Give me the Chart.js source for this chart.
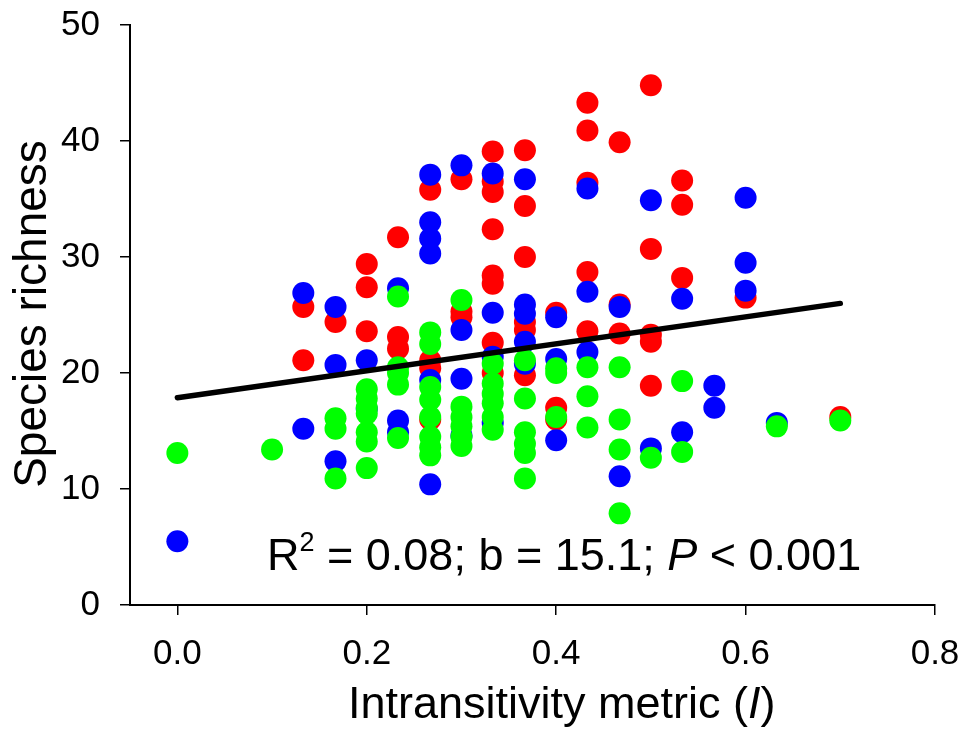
<!DOCTYPE html>
<html>
<head>
<meta charset="utf-8">
<script src="https://cdn.jsdelivr.net/npm/chart.js@4/dist/chart.umd.min.js"></script>
<style>
  html, body { margin: 0; padding: 0; background: #fff; }
  #wrap { width: 961px; height: 731px; }
</style>
</head>
<body>
<div id="wrap"><canvas id="chart" width="961" height="731"></canvas></div>
<script>
const xTicks = [0, 0.2, 0.4, 0.6, 0.8];
const yTicks = [0, 10, 20, 30, 40, 50];

// [intransitivity, species richness]
const redPoints = [
    [0.133, 25.7], [0.133, 21.1],
    [0.167, 24.4],
    [0.2, 29.4], [0.2, 27.4], [0.2, 23.6],
    [0.233, 31.7], [0.233, 23.1], [0.233, 22.1],
    [0.267, 35.8], [0.267, 21.1], [0.267, 20.4], [0.267, 16.0],
    [0.3, 36.7], [0.3, 25.3], [0.3, 24.8],
    [0.333, 39.1], [0.333, 36.5], [0.333, 35.6], [0.333, 32.4], [0.333, 28.4], [0.333, 27.7], [0.333, 22.6], [0.333, 20.0],
    [0.367, 39.2], [0.367, 34.4], [0.367, 30.0], [0.367, 24.4], [0.367, 23.7], [0.367, 19.8],
    [0.4, 25.2], [0.4, 17.0], [0.4, 16.0],
    [0.433, 43.3], [0.433, 40.9], [0.433, 36.4], [0.433, 28.7], [0.433, 23.6],
    [0.467, 39.9], [0.467, 25.9], [0.467, 23.4],
    [0.5, 44.8], [0.5, 30.7], [0.5, 23.3], [0.5, 22.7], [0.5, 18.9],
    [0.533, 36.6], [0.533, 34.5], [0.533, 28.2],
    [0.6, 26.5],
    [0.7, 16.2]
];
const bluePoints = [
    [0, 5.5],
    [0.133, 26.9], [0.133, 15.2],
    [0.167, 25.7], [0.167, 20.7], [0.167, 12.4],
    [0.2, 21.1], [0.2, 16.9],
    [0.233, 27.3], [0.233, 15.9], [0.233, 14.9],
    [0.267, 37.1], [0.267, 33.0], [0.267, 31.6], [0.267, 30.3], [0.267, 19.4], [0.267, 10.4],
    [0.3, 37.9], [0.3, 23.7], [0.3, 19.5], [0.3, 14.6],
    [0.333, 37.2], [0.333, 25.2], [0.333, 21.4], [0.333, 15.7],
    [0.367, 36.7], [0.367, 25.9], [0.367, 25.1], [0.367, 22.7], [0.367, 20.8],
    [0.4, 24.8], [0.4, 21.2], [0.4, 14.2],
    [0.433, 35.9], [0.433, 27.0], [0.433, 21.8],
    [0.467, 25.7], [0.467, 11.1],
    [0.5, 34.9], [0.5, 13.5],
    [0.533, 26.4], [0.533, 14.9],
    [0.567, 18.9], [0.567, 17.0],
    [0.6, 35.1], [0.6, 29.5], [0.6, 27.1],
    [0.633, 15.7]
];
const greenPoints = [
    [0, 13.1],
    [0.1, 13.4],
    [0.167, 16.1], [0.167, 15.2], [0.167, 10.9],
    [0.2, 18.6], [0.2, 17.8], [0.2, 17.0], [0.2, 16.5], [0.2, 14.9], [0.2, 14.1], [0.2, 11.8],
    [0.233, 26.6], [0.233, 20.5], [0.233, 20.0], [0.233, 19.0], [0.233, 14.4],
    [0.267, 23.5], [0.267, 22.5], [0.267, 18.8], [0.267, 17.7], [0.267, 16.2], [0.267, 14.5], [0.267, 13.6], [0.267, 12.9],
    [0.3, 26.3], [0.3, 17.1], [0.3, 16.2], [0.3, 15.4], [0.3, 14.5], [0.3, 13.7],
    [0.333, 20.8], [0.333, 19.1], [0.333, 18.2], [0.333, 17.4], [0.333, 16.2], [0.333, 15.1],
    [0.367, 21.1], [0.367, 17.8], [0.367, 14.9], [0.367, 13.9], [0.367, 13.1], [0.367, 10.9],
    [0.4, 20.4], [0.4, 20.0], [0.4, 16.2],
    [0.433, 20.5], [0.433, 18.0], [0.433, 15.3],
    [0.467, 20.5], [0.467, 16.0], [0.467, 13.4], [0.467, 7.9],
    [0.5, 12.7],
    [0.533, 19.3], [0.533, 13.2],
    [0.633, 15.4],
    [0.7, 15.9]
];
const fitX = [0, 0.7];
const fitY = [17.87, 26.0];

const FONT = "'Liberation Sans', Arial, Helvetica, sans-serif";

const toXY = (pts) => pts.map(([x, y]) => ({ x, y }));

function scatterSet(pts, color, order) {
    return {
        type: "scatter",
        data: toXY(pts),
        backgroundColor: color,
        borderWidth: 0,
        pointRadius: 11,
        pointHoverRadius: 11,
        order: order,
        clip: false,
    };
}

// titles and the stats line, drawn with mixed italic runs
const textPlugin = {
    id: "textPlugin",
    afterDraw(chart) {
        const ctx = chart.ctx;
        ctx.save();
        ctx.fillStyle = "#000";
        ctx.textBaseline = "alphabetic";
        ctx.textAlign = "left";

        const runs = (x, y, parts) => {
            for (const p of parts) {
                ctx.font = p.font;
                ctx.fillText(p.text, x, y + (p.dy || 0));
                x += ctx.measureText(p.text).width;
            }
        };

        // stats
        runs(267, 570, [
            { text: "R", font: `45px ${FONT}` },
            { text: "2", font: `27px ${FONT}`, dy: -19 },
            { text: " = 0.08; b = 15.1; ", font: `45px ${FONT}` },
            { text: "P", font: `italic 45px ${FONT}` },
            { text: " < 0.001", font: `45px ${FONT}` },
        ]);

        // x title
        runs(348, 718, [
            { text: "Intransitivity metric (", font: `45px ${FONT}` },
            { text: "I", font: `italic 45px ${FONT}` },
            { text: ")", font: `45px ${FONT}` },
        ]);

        // y title
        ctx.translate(46, 314);
        ctx.rotate(-Math.PI / 2);
        ctx.textAlign = "center";
        ctx.font = `46px ${FONT}`;
        ctx.fillText("Species richness", 0, 0);
        ctx.restore();
    },
};

new Chart(document.getElementById("chart"), {
    type: "scatter",
    data: {
        datasets: [
            {
                type: "line",
                data: fitX.map((x, i) => ({ x, y: fitY[i] })),
                borderColor: "#000",
                borderWidth: 5.5,
                borderCapStyle: "round",
                pointRadius: 0,
                fill: false,
                order: 0,
            },
            scatterSet(greenPoints, "#00ff00", 1),
            scatterSet(bluePoints, "#0000ff", 2),
            scatterSet(redPoints, "#ff0000", 3),
        ],
    },
    options: {
        responsive: false,
        animation: false,
        events: [],
        layout: { padding: { left: 0, right: 26, top: 25, bottom: 0 } },
        plugins: {
            legend: { display: false },
            tooltip: { enabled: false },
        },
        scales: {
            x: {
                type: "linear",
                min: -0.05,
                max: 0.8,
                afterBuildTicks: (scale) => {
                    scale.ticks = xTicks.map((v) => ({ value: v }));
                },
                afterFit: (scale) => {
                    scale.height = 126;
                    scale.paddingLeft = 0;
                    scale.paddingRight = 0;
                },
                ticks: {
                    color: "#000",
                    font: { family: FONT, size: 35 },
                    padding: 18,
                    maxRotation: 0,
                    callback: (v) => Number(v).toFixed(1),
                },
                grid: {
                    drawOnChartArea: false,
                    drawTicks: true,
                    tickLength: 10,
                    color: "#000",
                    lineWidth: 1.5,
                },
                border: { display: true, color: "#000", width: 2 },
            },
            y: {
                type: "linear",
                min: 0,
                max: 50,
                afterBuildTicks: (scale) => {
                    scale.ticks = yTicks.map((v) => ({ value: v }));
                },
                afterFit: (scale) => {
                    scale.width = 130;
                    scale.paddingTop = 0;
                    scale.paddingBottom = 0;
                },
                ticks: {
                    color: "#000",
                    font: { family: FONT, size: 35 },
                    padding: 20,
                    callback: (v) => String(v),
                },
                grid: {
                    drawOnChartArea: false,
                    drawTicks: true,
                    tickLength: 10,
                    color: "#000",
                    lineWidth: 1.5,
                },
                border: { display: true, color: "#000", width: 2 },
            },
        },
    },
    plugins: [textPlugin],
});
</script>
</body>
</html>
